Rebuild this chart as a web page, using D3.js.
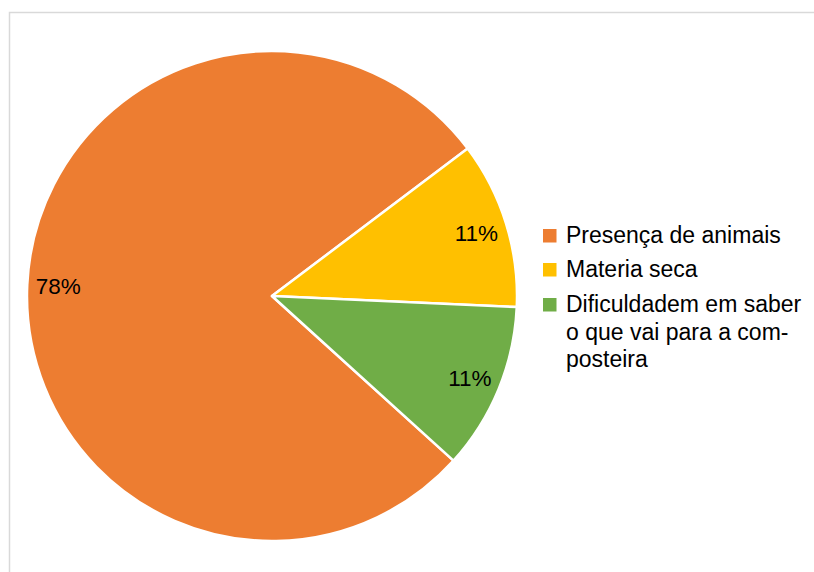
<!DOCTYPE html>
<html>
<head>
<meta charset="utf-8">
<script src="https://cdn.jsdelivr.net/npm/d3@7"></script>
<style>
  html, body { margin: 0; padding: 0; background: #ffffff; }
  svg { display: block; }
  text { font-family: Arial, "Liberation Sans", sans-serif; fill: #000; }
</style>
</head>
<body>
<svg id="chart" width="814" height="572"></svg>
<script>
// Problems reported with composting (share of answers, %)
const categories = ["Presença de animais", "Materia seca", "Dificuldadem em saber o que vai para a composteira"];
const legendLines = [
  ["Presença de animais"],
  ["Materia seca"],
  ["Dificuldadem em saber", "o que vai para a com-", "posteira"]
];
const shares = [78, 11, 11];
const valueLabels = ["78%", "11%", "11%"];
const colors = ["#ED7D31", "#FFC000", "#70AD47"];

const svg = d3.select("#chart");

// chart-area frame
svg.append("rect")
  .attr("x", 9.5).attr("y", 12.5)
  .attr("width", 900).attr("height", 700)
  .attr("fill", "#fff")
  .attr("stroke", "#d9d9d9")
  .attr("stroke-width", 1.5);

const cx = 272, cy = 296, radius = 245;
const startDeg = 132.2;

const pie = d3.pie()
  .value(d => d)
  .sort(null)
  .startAngle(startDeg * Math.PI / 180)
  .endAngle((startDeg + 360) * Math.PI / 180);

const arcs = pie(shares);
const arc = d3.arc().innerRadius(0).outerRadius(radius);
const labelArc = d3.arc().innerRadius(214).outerRadius(214);

const g = svg.append("g").attr("transform", `translate(${cx},${cy})`);

g.selectAll("path.slice")
  .data(arcs)
  .join("path")
  .attr("class", "slice")
  .attr("d", arc)
  .attr("fill", (d, i) => colors[i])
  .attr("stroke", "#fff")
  .attr("stroke-width", 2.5)
  .attr("stroke-linejoin", "round");

g.selectAll("text.val")
  .data(arcs)
  .join("text")
  .attr("class", "val")
  .attr("transform", d => `translate(${labelArc.centroid(d)})`)
  .attr("text-anchor", "middle")
  .attr("dy", "0.36em")
  .style("font-size", "22.5px")
  .text((d, i) => valueLabels[i]);

// legend
const legend = svg.append("g").attr("transform", "translate(543,0)");
const entryTop = [229, 263, 298];
const lineGap = 27.5;

legendLines.forEach((lines, i) => {
  legend.append("rect")
    .attr("x", 0).attr("y", entryTop[i])
    .attr("width", 13.5).attr("height", 13.5)
    .attr("fill", colors[i]);
  const t = legend.append("text")
    .attr("x", 23)
    .attr("y", entryTop[i] + 14)
    .style("font-size", "23px");
  lines.forEach((ln, j) => {
    t.append("tspan")
      .attr("x", 23)
      .attr("dy", j === 0 ? 0 : lineGap)
      .text(ln);
  });
});
</script>
</body>
</html>
